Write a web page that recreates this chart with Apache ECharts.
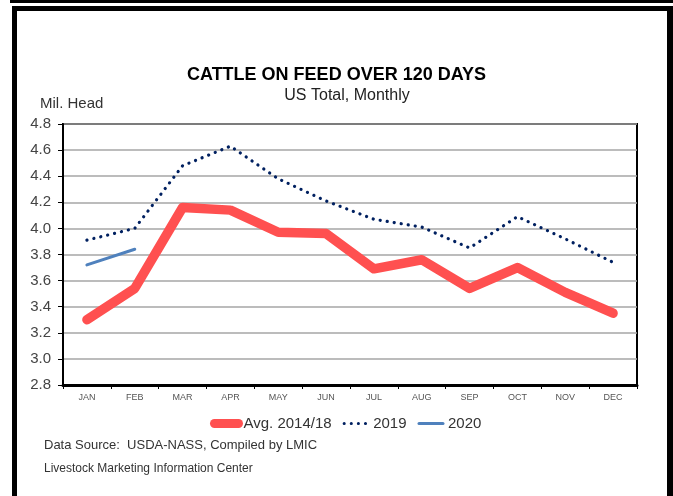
<!DOCTYPE html>
<html>
<head>
<meta charset="utf-8">
<script src="https://cdn.jsdelivr.net/npm/echarts@6/dist/echarts.min.js"></script>
<style>
  html, body { margin: 0; padding: 0; background: #fff; }
  #chart { width: 673px; height: 496px; }
</style>
</head>
<body>
<div id="chart"></div>
<script>
var months = ["JAN", "FEB", "MAR", "APR", "MAY", "JUN", "JUL", "AUG", "SEP", "OCT", "NOV", "DEC"];
var avg1418 = [3.30, 3.54, 4.16, 4.14, 3.97, 3.96, 3.69, 3.76, 3.54, 3.70, 3.51, 3.35];
var y2019 = [3.91, 4.00, 4.48, 4.63, 4.38, 4.21, 4.07, 4.01, 3.85, 4.09, 3.92, 3.74];
var y2020 = [3.72, 3.84];
var seriesNames = ["Avg. 2014/18", "2019", "2020"];

var font = "'Liberation Sans', Arial, sans-serif";
var chart = echarts.init(document.getElementById("chart"));

var option = {
    animation: false,
    backgroundColor: "#fff",
    textStyle: { fontFamily: font },
    title: [
        {
            text: "CATTLE ON FEED OVER 120 DAYS",
            left: "center",
            top: 61,
            textStyle: { fontSize: 18, fontWeight: "bold", color: "#000", fontFamily: font }
        },
        {
            text: "US Total, Monthly",
            left: 342,
            top: 83,
            textAlign: "center",
            textStyle: { fontSize: 16, fontWeight: "normal", color: "#222", fontFamily: font }
        }
    ],
    legend: {
        data: [
            { name: seriesNames[0], lineStyle: { width: 9, cap: "round" } },
            { name: seriesNames[1], lineStyle: { width: 3, cap: "round", type: [0.1, 7] } },
            { name: seriesNames[2], lineStyle: { width: 3, cap: "round" } }
        ],
        left: 205,
        top: 411,
        itemWidth: 24,
        itemHeight: 10,
        itemGap: 11,
        itemStyle: { opacity: 0 },
        textStyle: { fontSize: 15, color: "#333", fontFamily: font }
    },
    grid: {
        left: 63,
        right: 36,
        top: 124,
        bottom: 111,
        show: true,
        borderColor: "#000",
        borderWidth: 2
    },
    xAxis: {
        type: "category",
        data: months,
        boundaryGap: true,
        axisLine: { lineStyle: { color: "#000", width: 3 } },
        axisTick: { show: true, length: 4, lineStyle: { color: "#000", width: 1 } },
        axisLabel: { fontSize: 9, color: "#555", margin: 8, fontFamily: font }
    },
    yAxis: {
        type: "value",
        min: 2.8,
        max: 4.8,
        interval: 0.2,
        axisLine: { show: true, lineStyle: { color: "#000", width: 2 } },
        axisTick: { show: true, length: 5, lineStyle: { color: "#000", width: 1 } },
        axisLabel: {
            fontSize: 15,
            color: "#444",
            margin: 12,
            fontFamily: font,
            formatter: function (v) { return v.toFixed(1); }
        },
        splitLine: { lineStyle: { color: "#a6a6a6", width: 1.5 } }
    },
    series: [
        {
            name: seriesNames[0],
            type: "line",
            data: avg1418,
            symbol: "none",
            color: "#ff5050",
            lineStyle: { width: 9.5, color: "#ff5050", cap: "round", join: "round" },
            z: 3
        },
        {
            name: seriesNames[1],
            type: "line",
            data: y2019,
            symbol: "none",
            color: "#002060",
            lineStyle: { width: 3.2, color: "#002060", type: [0.1, 7], cap: "round" },
            z: 2
        },
        {
            name: seriesNames[2],
            type: "line",
            data: y2020,
            symbol: "none",
            color: "#4f81bd",
            lineStyle: { width: 3, color: "#4f81bd", cap: "round" },
            z: 2
        }
    ],
    graphic: [
        { type: "rect", shape: { x: 10, y: 0, width: 663, height: 3 }, style: { fill: "#000" } },
        { type: "rect", shape: { x: 12, y: 6, width: 661, height: 5 }, style: { fill: "#000" } },
        { type: "rect", shape: { x: 12, y: 6, width: 5, height: 490 }, style: { fill: "#000" } },
        { type: "rect", shape: { x: 667, y: 6, width: 6, height: 490 }, style: { fill: "#000" } },
        {
            type: "text", left: 40, top: 96,
            style: { text: "Mil. Head", fontSize: 15, fill: "#333", fontFamily: font }
        },
        {
            type: "text", left: 44, top: 439,
            style: { text: "Data Source:  USDA-NASS, Compiled by LMIC", fontSize: 13, fill: "#333", fontFamily: font }
        },
        {
            type: "text", left: 44, top: 463,
            style: { text: "Livestock Marketing Information Center", fontSize: 12, fill: "#333", fontFamily: font }
        }
    ]
};

chart.setOption(option);
</script>
</body>
</html>
